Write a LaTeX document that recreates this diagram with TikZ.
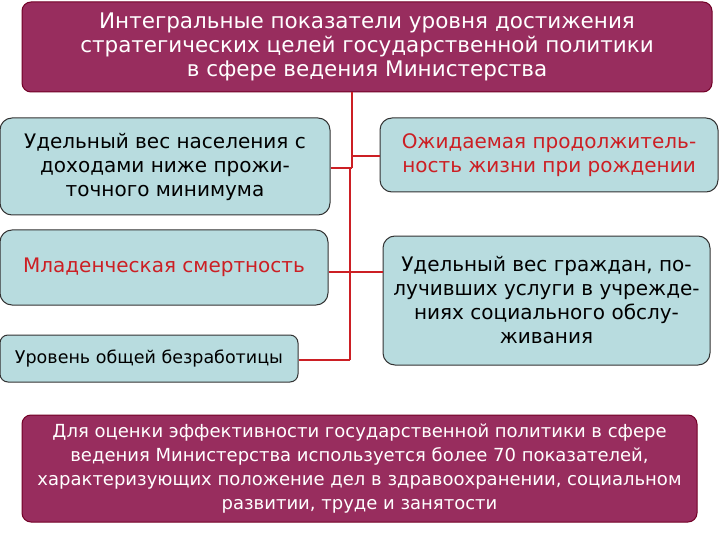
\documentclass[tikz,border=0pt]{standalone}
\usepackage{fontspec}
\setmainfont{DejaVu Sans}
\begin{document}
\begin{tikzpicture}[x=1pt,y=-1pt,
 purp/.style={draw=purple!60!black,fill=pbox,rounded corners=9pt,line width=1pt,text=white,align=center,inner sep=0pt},
 blue/.style={draw=black!80,fill=bbox,rounded corners=12pt,line width=1pt,align=center,inner sep=0pt},
 conn/.style={draw=cred,line width=2pt},
 thin/.style={draw=cred,line width=1.3pt}]
\definecolor{pbox}{HTML}{982D5E}
\definecolor{bbox}{HTML}{B8DCDF}
\definecolor{cred}{HTML}{CC1F24}
\useasboundingbox (0,0) rectangle (720,540);
\fill[white] (0,0) rectangle (720,540);
\node[purp,minimum width=690,minimum height=90,font=\fontsize{21.5}{24}\selectfont] (t) at (367,47)
 {Интегральные показатели уровня достижения\\стратегических целей государственной политики\\в сфере ведения Министерства};
\node[blue,minimum width=330,minimum height=97,font=\fontsize{20}{24}\selectfont] (a) at (165,166.5)
 {Удельный вес населения с\\доходами ниже прожи-\\точного минимума};
\node[blue,minimum width=328,minimum height=75,font=\fontsize{20}{24}\selectfont,text=cred] (b) at (164,267.5)
 {Младенческая смертность};
\node[blue,minimum width=298,minimum height=47,rounded corners=8pt,font=\fontsize{17.5}{21}\selectfont] (c) at (149,358.5)
 {Уровень общей безработицы};
\node[blue,minimum width=338,minimum height=74,font=\fontsize{20}{24}\selectfont,text=cred] (d) at (549,155)
 {Ожидаемая продолжитель-\\ность жизни при рождении};
\node[blue,minimum width=327,minimum height=129,font=\fontsize{20}{24}\selectfont] (e) at (546.5,300.5)
 {Удельный вес граждан, по-\\лучивших услуги в учрежде-\\ниях социального обслу-\\живания};
\node[purp,minimum width=675,minimum height=107,font=\fontsize{18}{24}\selectfont] (f) at (359.5,468.5)
 {Для оценки эффективности государственной политики в сфере\\ведения Министерства используется более 70 показателей,\\характеризующих положение дел в здравоохранении, социальном\\развитии, труде и занятости};
\coordinate (j1) at (352,156);
\coordinate (j2) at (350,168);
\coordinate (j3) at (350,272);
\coordinate (j4) at (350,360);
\draw[thin] (t.south -| j1) -- (352,168);
\draw[thin] (j1) -- (d.west |- j1);
\draw[thin] (a.east |- j2) -- (352,168);
\draw[conn] (j2) -- (j4);
\draw[thin] (b.east |- j3) -- (e.west |- j3);
\draw[thin] (j4) -- (c.east |- j4);
\end{tikzpicture}
\end{document}
